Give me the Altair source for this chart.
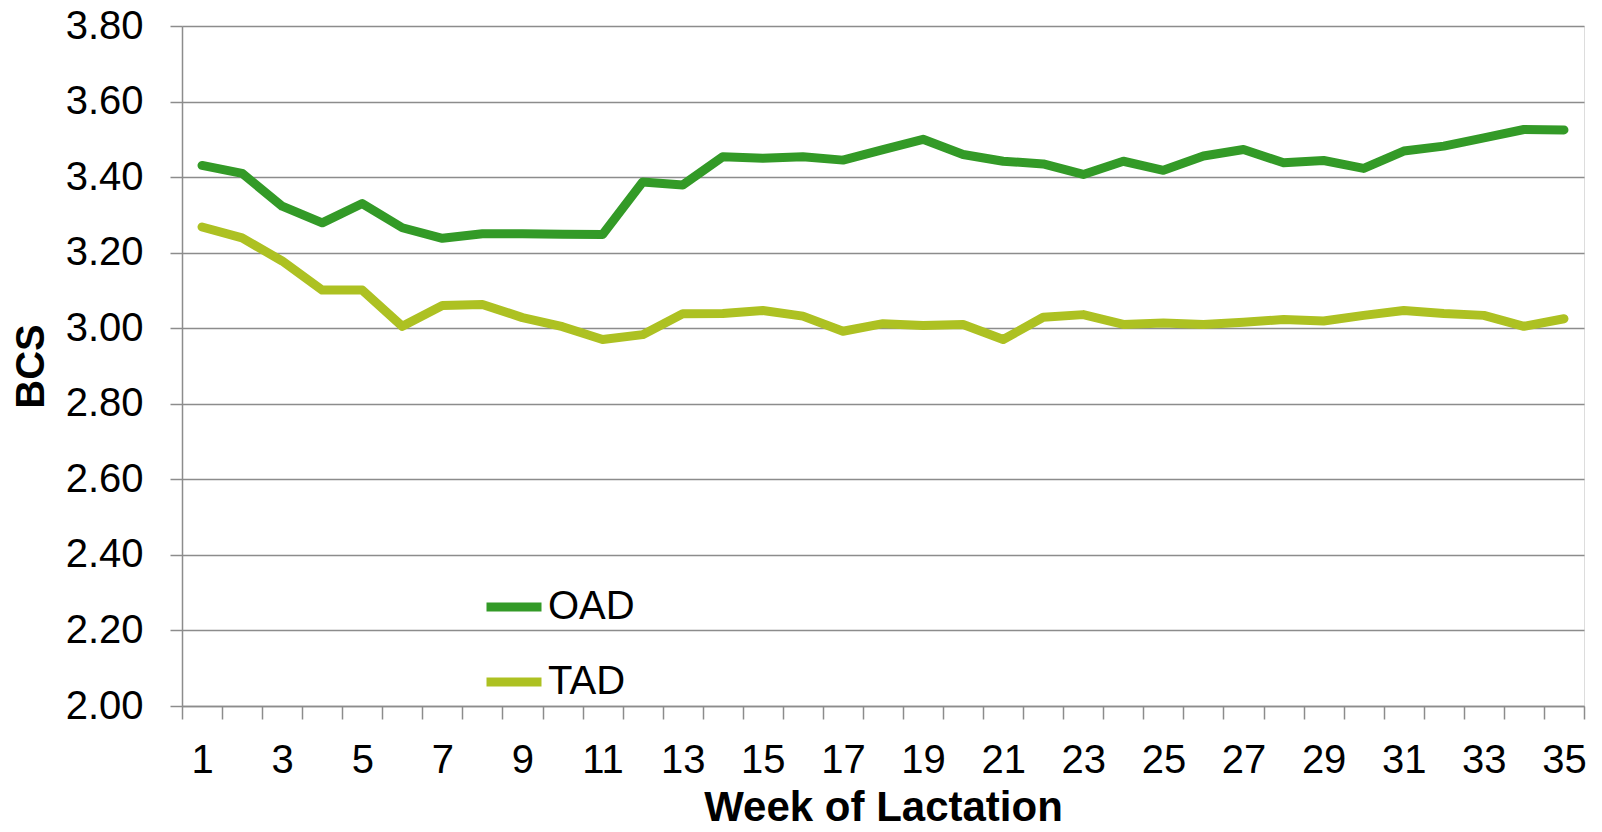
import altair as alt
import pandas as pd

weeks = list(range(1, 36))
oad = [3.431, 3.410, 3.323, 3.279, 3.330, 3.266, 3.238, 3.250, 3.250, 3.249,
       3.248, 3.387, 3.379, 3.454, 3.450, 3.454, 3.445, 3.473, 3.500, 3.460,
       3.442, 3.435, 3.407, 3.442, 3.418, 3.456, 3.473, 3.438, 3.444, 3.423,
       3.469, 3.482, 3.504, 3.526, 3.525]
tad = [3.268, 3.239, 3.178, 3.101, 3.101, 3.005, 3.060, 3.063, 3.028, 3.004,
       2.970, 2.983, 3.038, 3.039, 3.047, 3.032, 2.992, 3.012, 3.007, 3.010,
       2.970, 3.029, 3.036, 3.010, 3.014, 3.010, 3.016, 3.023, 3.019, 3.034,
       3.047, 3.039, 3.034, 3.005, 3.025]
series_names = ["OAD", "TAD"]
series_colors = ["#339a27", "#adc122"]
y_ticks = [2.0, 2.2, 2.4, 2.6, 2.8, 3.0, 3.2, 3.4, 3.6, 3.8]

df = pd.DataFrame({
    "week": weeks * 2,
    "bcs": oad + tad,
    "group": ["OAD"] * len(weeks) + ["TAD"] * len(weeks),
})

FONT = "Liberation Sans"
GRID = "#8c8c8c"

chart = alt.Chart(df).mark_line(strokeWidth=9, strokeCap="round", strokeJoin="round").encode(
    x=alt.X("week:O", title="Week of Lactation",
            scale=alt.Scale(paddingInner=0, paddingOuter=0),
            axis=alt.Axis(labelAngle=0, tickBand="extent",
                          labelExpr="datum.value % 2 == 1 ? datum.label : ''",
                          labelFontSize=40, labelFont=FONT, labelColor="black",
                          labelPadding=21, tickSize=13, tickColor=GRID, tickWidth=1.5,
                          domainColor=GRID, domainWidth=1.5, grid=False,
                          titleFontSize=42, titleFont=FONT, titleFontWeight="bold",
                          titleColor="black", titleBaseline="middle",
                          titleX=701, titleY=101, titleAnchor="middle")),
    y=alt.Y("bcs:Q", title="BCS",
            scale=alt.Scale(domain=[2.0, 3.8], nice=False, zero=False),
            axis=alt.Axis(values=y_ticks, format=".2f",
                          labelFontSize=40, labelFont=FONT, labelColor="black",
                          labelPadding=27, tickSize=12, tickColor=GRID, tickWidth=1.5,
                          domainColor=GRID, domainWidth=1.5,
                          gridColor=GRID, gridWidth=1.5,
                          titleFontSize=40, titleFont=FONT, titleFontWeight="bold",
                          titleColor="black", titleAngle=270, titleBaseline="middle",
                          titleAlign="center", titleX=-151, titleY=340)),
    color=alt.Color("group:N",
                    scale=alt.Scale(domain=series_names, range=series_colors),
                    legend=alt.Legend(title=None, orient="none", legendX=300, legendY=549,
                                      symbolType="stroke", symbolStrokeWidth=9,
                                      symbolSize=3025, labelFontSize=40, labelFont=FONT,
                                      labelColor="black", labelOffset=2, rowPadding=23,
                                      direction="vertical")),
).properties(
    width=1402, height=680,
    autosize=alt.AutoSizeParams(type="none"),
    padding={"left": 174, "top": 18, "right": 10, "bottom": 118},
).configure_view(stroke=None).configure(background="white")

chart.save("out.html", embed_options={"renderer": "svg", "actions": False})
